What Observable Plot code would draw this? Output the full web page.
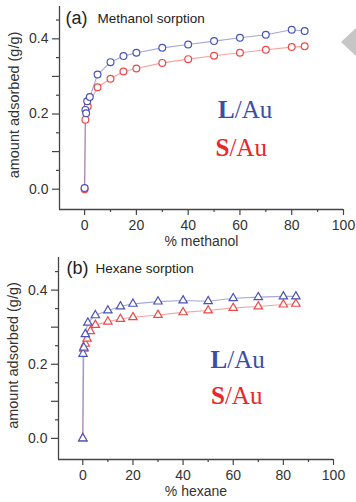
<!DOCTYPE html>
<html>
<head>
<meta charset="utf-8">
<script src="https://cdn.jsdelivr.net/npm/d3@7"></script>
<script src="https://cdn.jsdelivr.net/npm/@observablehq/plot@0.6"></script>
<style>
  html, body { margin: 0; padding: 0; background: #fff; }
  #wrap { position: relative; width: 356px; height: 502px; overflow: hidden; }
  #wrap svg { display: block; }
  #arrow { position: absolute; left: 341px; top: 27px; width: 0; height: 0;
    border-top: 15px solid transparent; border-bottom: 15px solid transparent;
    border-right: 16px solid #c6c6c6; }
</style>
</head>
<body>
<div id="wrap"><div id="arrow"></div></div>
<script>
// ---- data ----
const methanolPctL = [0, 0.3, 0.6, 1, 2, 5, 10, 15, 20, 30, 40, 50, 60, 70, 80, 85];
const methanolL    = [0.003, 0.211, 0.202, 0.234, 0.245, 0.305, 0.338, 0.354, 0.363, 0.376, 0.385, 0.394, 0.403, 0.411, 0.424, 0.421];
const methanolPctS = [0, 0.3, 1.2, 5, 10, 15, 20, 30, 40, 50, 60, 70, 80, 85];
const methanolS    = [0, 0.185, 0.22, 0.271, 0.294, 0.313, 0.321, 0.336, 0.346, 0.355, 0.363, 0.371, 0.378, 0.38];

const hexanePctL = [0, 0.1, 0.4, 1, 2, 5, 10, 15, 20, 30, 40, 50, 60, 70, 80, 85];
const hexaneL    = [0, 0.228, 0.245, 0.281, 0.312, 0.332, 0.345, 0.356, 0.363, 0.369, 0.372, 0.37, 0.378, 0.381, 0.383, 0.383];
const hexanePctS = [0, 0.4, 1, 1.7, 3, 5, 10, 15, 20, 30, 40, 50, 60, 70, 80, 85];
const hexaneS    = [0, 0.242, 0.255, 0.269, 0.289, 0.306, 0.315, 0.322, 0.327, 0.333, 0.34, 0.345, 0.352, 0.356, 0.361, 0.363];

const xTicks = [0, 20, 40, 60, 80, 100];
const xMinorTicks = [10, 30, 50, 70, 90];
const yLabelTicks = [0, 0.2, 0.4];
const yMidTicks = [0.1, 0.3];
const yMinorTicks = [0.05, 0.15, 0.25, 0.35, 0.45];

const seriesNames = ["L/Au", "S/Au"];
const seriesBold = ["L", "S"];
const seriesRest = ["/Au", "/Au"];

const BLUE = "#4a54b4", RED = "#ee4848";
const BLUE_TXT = "#3a4ea6", RED_TXT = "#e8262b";

const toRows = (xs, ys) => xs.map((x, i) => ({x, y: ys[i]}));

function panel(o) {
  const L = toRows(o.xL, o.yL), S = toRows(o.xS, o.yS);
  const sym = o.symbol, r = o.r;
  const labelFont = "'Liberation Serif', 'Times New Roman', serif";
  return Plot.plot({
    width: 356, height: 251,
    marginLeft: o.ml, marginRight: o.mr, marginTop: 6, marginBottom: o.mb,
    style: {fontFamily: "'Liberation Sans', Arial, sans-serif", fontSize: "14px", color: "#333", background: "#fff", overflow: "visible"},
    x: {domain: o.xDomain, label: null},
    y: {domain: o.yDomain, label: null},
    marks: [
      Plot.axisX({ticks: xTicks, tickSize: 6, tickPadding: 5, label: null, stroke: "#444", strokeWidth: 1.2, fill: "#333"}),
      Plot.axisX({ticks: xMinorTicks, tickSize: 3, tickFormat: () => "", label: null, stroke: "#444", strokeWidth: 1.2}),
      Plot.axisY({ticks: yLabelTicks, tickSize: 7, tickPadding: 4, tickFormat: d3.format(".1f"), label: null, stroke: "#444", strokeWidth: 1.2, fill: "#333"}),
      Plot.axisY({ticks: yMidTicks, tickSize: 7, tickFormat: () => "", label: null, stroke: "#444", strokeWidth: 1.2}),
      Plot.axisY({ticks: yMinorTicks, tickSize: 3, tickFormat: () => "", label: null, stroke: "#444", strokeWidth: 1.2}),
      Plot.ruleX([o.xDomain[0]], {stroke: "#444", strokeWidth: 1.3}),
      Plot.ruleY([o.yDomain[0]], {stroke: "#444", strokeWidth: 1.3}),
      Plot.line(S, {x: "x", y: "y", stroke: RED, strokeOpacity: 0.5, strokeWidth: 1.1}),
      Plot.line(L, {x: "x", y: "y", stroke: BLUE, strokeOpacity: 0.5, strokeWidth: 1.1}),
      Plot.dot(S, {x: "x", y: "y", symbol: sym, r, stroke: RED, strokeWidth: 1.2, fill: "white"}),
      Plot.dot(L, {x: "x", y: "y", symbol: sym, r, stroke: BLUE, strokeWidth: 1.2, fill: "white"}),
      // panel tag and title
      Plot.text([o.tag], {frameAnchor: "top-left", textAnchor: "start", lineAnchor: "bottom", dx: o.tagDx, dy: o.tagDy, fontSize: 18, fill: "#222"}),
      Plot.text([o.title], {frameAnchor: "top-left", textAnchor: "start", lineAnchor: "bottom", dx: o.titleDx, dy: o.titleDy, fontSize: 13.5, fill: "#222"}),
      // axis titles
      Plot.text([o.xTitle], {frameAnchor: "bottom", textAnchor: "middle", lineAnchor: "bottom", dy: 36, fontSize: 14, fill: "#333"}),
      Plot.text(["amount adsorbed (g/g)"], {frameAnchor: "left", textAnchor: "middle", lineAnchor: "middle", rotate: -90, dx: -45, dy: -3, fontSize: 14.5, fill: "#333"}),
      // series labels
      Plot.text([seriesBold[0]], {frameAnchor: "top-left", textAnchor: "start", lineAnchor: "bottom", dx: o.lDx, dy: o.lDy, fontSize: 25, fontWeight: "bold", fontFamily: labelFont, fill: BLUE_TXT}),
      Plot.text([seriesRest[0]], {frameAnchor: "top-left", textAnchor: "start", lineAnchor: "bottom", dx: o.lDx + 16.7, dy: o.lDy, fontSize: 25, fontFamily: labelFont, fill: BLUE_TXT}),
      Plot.text([seriesBold[1]], {frameAnchor: "top-left", textAnchor: "start", lineAnchor: "bottom", dx: o.sDx, dy: o.sDy, fontSize: 25, fontWeight: "bold", fontFamily: labelFont, fill: RED_TXT}),
      Plot.text([seriesRest[1]], {frameAnchor: "top-left", textAnchor: "start", lineAnchor: "bottom", dx: o.sDx + 13.9, dy: o.sDy, fontSize: 25, fontFamily: labelFont, fill: RED_TXT})
    ]
  });
}

const wrap = document.getElementById("wrap");
const a = panel({
  xL: methanolPctL, yL: methanolL, xS: methanolPctS, yS: methanolS,
  symbol: "circle", r: 3.4,
  ml: 59, mr: 13, mb: 42,
  xDomain: [-9.7, 100], yDomain: [-0.054, 0.486],
  tag: "(a)", title: "Methanol sorption", xTitle: "% methanol",
  tagDx: 6, tagDy: 17, titleDx: 38, titleDy: 16.5,
  lDx: 158.5, lDy: 111, sDx: 156, sDy: 149
});
const b = panel({
  xL: hexanePctL, yL: hexaneL, xS: hexanePctS, yS: hexaneS,
  symbol: "triangle", r: 3.1,
  ml: 58, mr: 23, mb: 43,
  xDomain: [-9.7, 100], yDomain: [-0.057, 0.488],
  tag: "(b)", title: "Hexane sorption", xTitle: "% hexane",
  tagDx: 8, tagDy: 16, titleDx: 37, titleDy: 15.7,
  lDx: 152, lDy: 110, sDx: 152.5, sDy: 146.5
});
wrap.insertBefore(a, wrap.firstChild);
wrap.insertBefore(b, document.getElementById("arrow"));
</script>
</body>
</html>
